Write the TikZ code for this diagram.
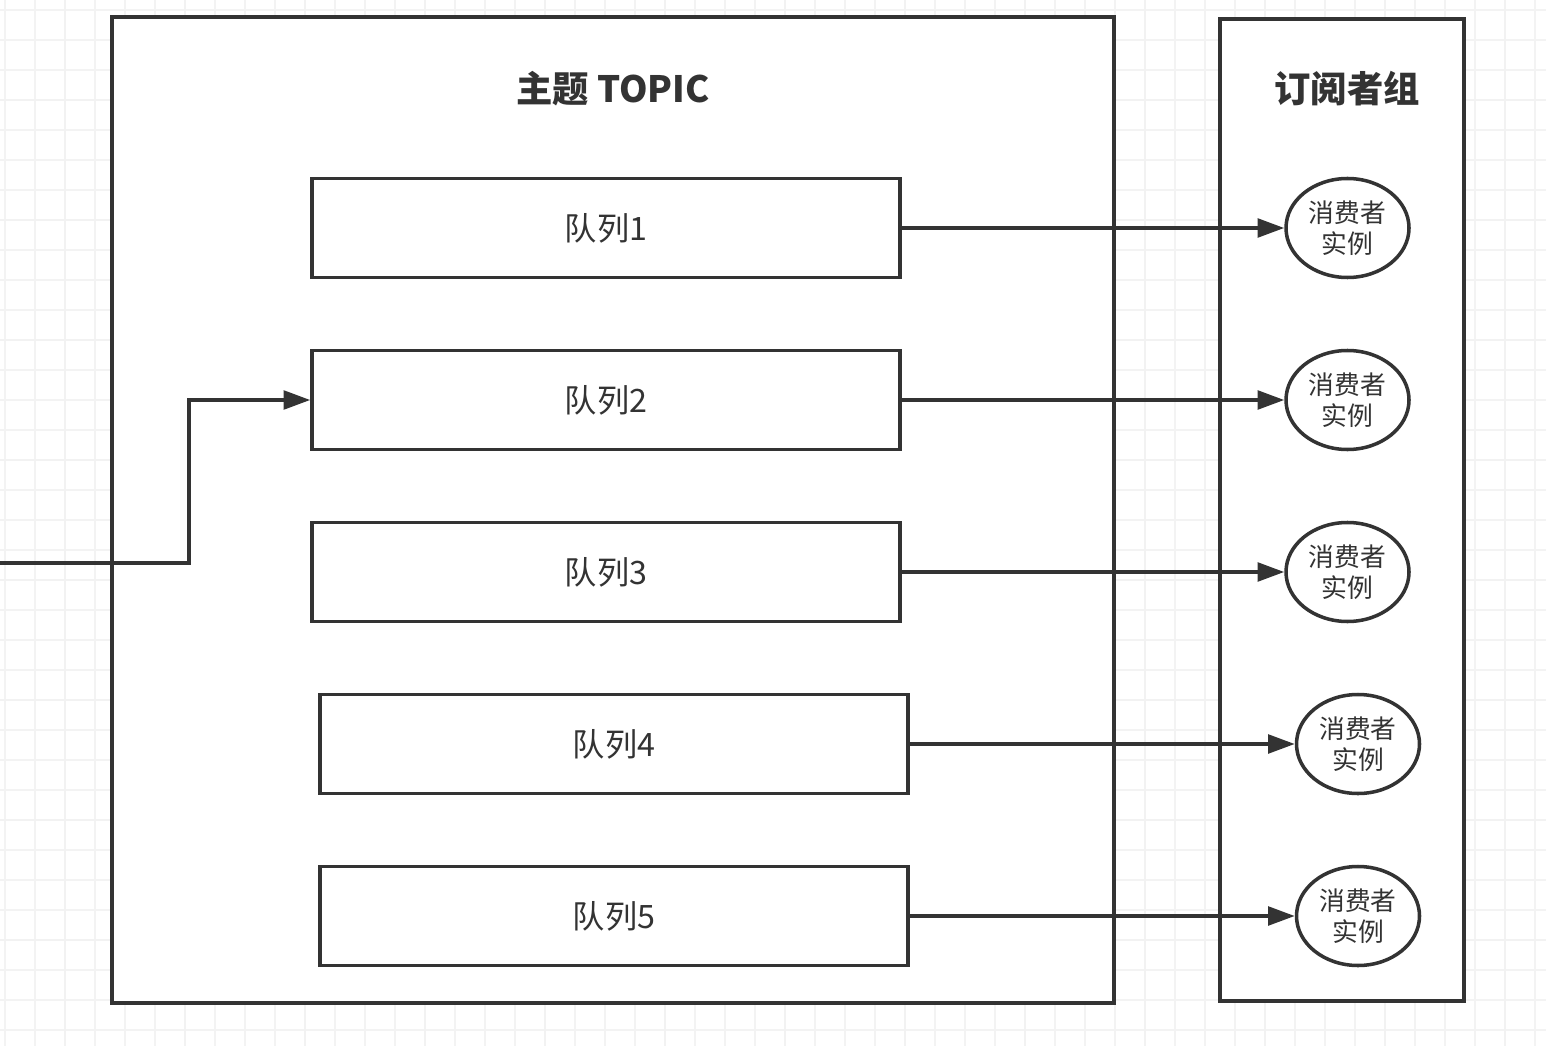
\documentclass[tikz,border=0pt]{standalone}
\usepackage{fontspec}
\setmainfont{Noto Sans CJK SC}
\usetikzlibrary{arrows.meta, positioning, shapes.geometric}
\definecolor{ink}{HTML}{333333}
\definecolor{gridc}{HTML}{F3F3F3}

\begin{document}
\begin{tikzpicture}[
      x=0.03cm, y=-0.03cm,
      frame/.style={rectangle, draw=ink, fill=white, line width=3pt, inner sep=0pt},
      title/.style={text=ink, font=\fontsize{31}{36}\selectfont\bfseries},
      queue/.style={rectangle, draw=ink, fill=white, line width=3pt, minimum width=17.64cm, minimum height=2.97cm, inner sep=0pt, text=ink, font=\fontsize{27.5}{32}\selectfont},
      consumer/.style={ellipse, draw=ink, fill=white, line width=3pt, minimum width=3.69cm, minimum height=2.97cm, inner sep=0pt, align=center, text=ink, font=\fontsize{22}{26.4}\selectfont},
      arrow/.style={draw=ink, line width=3pt, -{Triangle[length=0.8cm, width=0.56cm]}}
    ]
    \useasboundingbox (0,0) rectangle (1546,1046);
    \fill[white] (0,0) rectangle (1546,1046);
    % background grid
    \foreach \gx in {5,35,...,1545} \draw[gridc, line width=1.4pt] (\gx,0) -- (\gx,1046);
    \foreach \gy in {10,40,...,1045} \draw[gridc, line width=1.4pt] (0,\gy) -- (1546,\gy);
    \foreach \gx in {65,185,...,1545} \draw[gray!10, line width=1.4pt] (\gx,0) -- (\gx,1046);
    \foreach \gy in {100,220,...,1045} \draw[gray!10, line width=1.4pt] (0,\gy) -- (1546,\gy);

    % containers
    \node [frame, minimum width=30.06cm, minimum height=29.58cm] (topic) at (613,510) {};
    \node [frame, minimum width=7.32cm, minimum height=29.46cm] (group) at (1342,510) {};
    \node [title] (topictitle) at (613,89) {主题 TOPIC};
    \node [title] (grouptitle) at (1347,89) {订阅者组};

    % queues and consumers
    \node [queue] (q1) at (606,228) {队列1};
    \node [queue] (q2) at (606,400) {队列2};
    \node [queue] (q3) at (606,572) {队列3};
    \node [queue] (q4) at (614,744) {队列4};
    \node [queue] (q5) at (614,916) {队列5};
    \node [consumer] (c1) at (1347.5,228) {消费者\\实例};
    \node [consumer] (c2) at (1347.5,400) {消费者\\实例};
    \node [consumer] (c3) at (1347.5,572) {消费者\\实例};
    \node [consumer] (c4) at (1358,744) {消费者\\实例};
    \node [consumer] (c5) at (1358,916) {消费者\\实例};

    \coordinate (src) at (0,563);
    \draw [arrow] (src) -- ++(189,0) |- (q2.west);
    \foreach \i in {1,...,5}
      \draw [arrow] (q\i.east) -- (c\i.west);
  \end{tikzpicture}
\end{document}
